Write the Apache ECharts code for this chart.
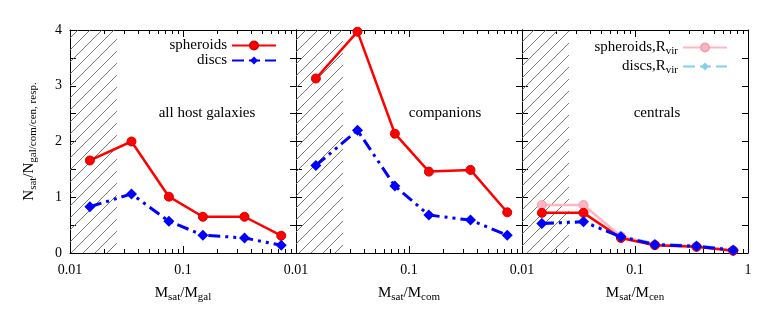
<!DOCTYPE html>
<html><head><meta charset="utf-8">
<script src="https://cdn.jsdelivr.net/npm/echarts@6/dist/echarts.min.js"></script>
<style>html,body{margin:0;padding:0;background:#fff}#c{width:772px;height:322px}</style>
</head><body><div id="c"></div>
<script>
// ---- data ----
const xBins = [0.015, 0.035, 0.075, 0.15, 0.35, 0.74];
const allSph = [1.66, 2.00, 1.01, 0.65, 0.65, 0.31];
const allDisc = [0.83, 1.06, 0.57, 0.32, 0.27, 0.14];
const comSph = [3.13, 3.97, 2.14, 1.46, 1.49, 0.73];
const comDisc = [1.57, 2.20, 1.20, 0.68, 0.59, 0.32];
const cenSph = [0.72, 0.72, 0.27, 0.14, 0.11, 0.04];
const cenDisc = [0.53, 0.56, 0.29, 0.15, 0.12, 0.05];
const cenSphRvir = [0.86, 0.86, 0.30, 0.15, 0.12, 0.05];
const cenDiscRvir = [0.53, 0.57, 0.30, 0.16, 0.13, 0.06];
const hatchRange = [0.01, 0.026];
const xMajor = [0.01, 0.1, 1];
const xMinor = [0.02,0.03,0.04,0.05,0.06,0.07,0.08,0.09,0.2,0.3,0.4,0.5,0.6,0.7,0.8,0.9];
const panelLabels = ['all host galaxies', 'companions', 'centrals'];
const xNames = ['gal', 'com', 'cen'];

const FONT = 'Liberation Serif';
const chart = echarts.init(document.getElementById('c'), null, {renderer: 'canvas'});

// hatch pattern
const pc = document.createElement('canvas');
const P = 12;
pc.width = P; pc.height = P;
const ctx = pc.getContext('2d');
ctx.strokeStyle = '#777'; ctx.lineWidth = 1;
ctx.beginPath();
ctx.moveTo(0, P); ctx.lineTo(P, 0);
ctx.moveTo(-2, 2); ctx.lineTo(2, -2);
ctx.moveTo(P - 2, P + 2); ctx.lineTo(P + 2, P - 2);
ctx.stroke();

const grids = [], xAxes = [], yAxes = [], series = [];
const lefts = [70, 296, 522];
const W = 226;
const rich = {
  n: {fontFamily: FONT, fontSize: 15, color: '#000'},
  s: {fontFamily: FONT, fontSize: 11, color: '#000', padding: [9, 0, 0, 0]}
};
for (let g = 0; g < 3; g++) {
  grids.push({left: lefts[g], top: 30, width: W, height: 223, containLabel: false});
  const common = {gridIndex: g, type: 'log', logBase: 10, min: 0.01, max: 1, splitLine: {show: false}};
  xAxes.push(Object.assign({}, common, {
    position: 'bottom',
    axisLine: {show: true, onZero: false, lineStyle: {color: '#000', width: 1}},
    axisTick: {show: true, inside: true, length: 7, customValues: xMajor, lineStyle: {color: '#000'}},
    axisLabel: {show: true, customValues: g < 2 ? [0.01, 0.1] : [0.01, 0.1, 1], margin: 10,
      fontFamily: FONT, fontSize: 14, color: '#000',
      formatter: v => v < 0.05 ? '0.01' : (v < 0.5 ? '0.1' : '1')},
    name: '{n|M}{s|sat}{n|/M}{s|' + xNames[g] + '}', nameLocation: 'middle', nameGap: 30,
    nameTextStyle: {rich: rich}
  }));
  xAxes.push(Object.assign({}, common, {
    position: 'bottom',
    axisLine: {show: false, onZero: false},
    axisTick: {show: true, inside: true, length: 4, customValues: xMinor, lineStyle: {color: '#000'}},
    axisLabel: {show: false}
  }));
  xAxes.push(Object.assign({}, common, {
    position: 'top',
    axisLine: {show: true, onZero: false, lineStyle: {color: '#000', width: 1}},
    axisTick: {show: true, inside: true, length: 7, customValues: xMajor, lineStyle: {color: '#000'}},
    axisLabel: {show: false}
  }));
  xAxes.push(Object.assign({}, common, {
    position: 'top',
    axisLine: {show: false, onZero: false},
    axisTick: {show: true, inside: true, length: 4, customValues: xMinor, lineStyle: {color: '#000'}},
    axisLabel: {show: false}
  }));
  const ycommon = {gridIndex: g, type: 'value', min: 0, max: 4, interval: 0.5, splitLine: {show: false}};
  yAxes.push(Object.assign({}, ycommon, {
    position: 'left',
    axisLine: {show: true, onZero: false, lineStyle: {color: '#000', width: 1}},
    axisTick: {show: true, inside: true, length: 6, lineStyle: {color: '#000'}},
    axisLabel: {show: g === 0, margin: 8, fontFamily: FONT, fontSize: 14, color: '#000',
      formatter: v => (Math.abs(v - Math.round(v)) < 1e-6 ? String(Math.round(v)) : '')},
    name: g === 0 ? '{n|N}{s|sat}{n|/N}{s|gal/com/cen, resp.}' : '',
    nameLocation: 'middle', nameGap: 31, nameRotate: 90,
    nameTextStyle: {rich: rich}
  }));
  yAxes.push(Object.assign({}, ycommon, {
    position: 'right',
    axisLine: {show: true, onZero: false, lineStyle: {color: '#000', width: 1}},
    axisTick: {show: true, inside: true, length: 6, lineStyle: {color: '#000'}},
    axisLabel: {show: false}
  }));
}

function mk(ys) { return xBins.map((x, i) => [x, ys[i]]); }
const dashDot = [12, 5, 3, 5, 3, 5];
function sph(name, g, ys, color, ring, z) {
  return {type: 'line', name: name, xAxisIndex: g * 4, yAxisIndex: g * 2, data: mk(ys),
    symbol: 'circle', symbolSize: 9, z: z,
    lineStyle: {color: color, width: 2.5, type: 'solid'},
    itemStyle: {color: color, borderColor: ring, borderWidth: 1}, animation: false};
}
function disc(name, g, ys, color, z) {
  return {type: 'line', name: name, xAxisIndex: g * 4, yAxisIndex: g * 2, data: mk(ys),
    symbol: 'diamond', symbolSize: 11, z: z,
    lineStyle: {color: color, width: 3, type: dashDot},
    itemStyle: {color: color}, animation: false};
}
const hatchSeries = g => ({type: 'line', xAxisIndex: g * 4, yAxisIndex: g * 2, data: [], silent: true, z: 1,
  markArea: {silent: true, itemStyle: {color: {image: pc, repeat: 'repeat'}},
    data: [[{xAxis: hatchRange[0], yAxis: 0}, {xAxis: hatchRange[1], yAxis: 4}]]}, animation: false});

series.push(hatchSeries(0), hatchSeries(1), hatchSeries(2));
series.push(sph('spheroids', 0, allSph, '#ff0000', '#d40000', 5));
series.push(disc('discs', 0, allDisc, '#0000ff', 5));
series.push(sph('spheroids', 1, comSph, '#ff0000', '#d40000', 5));
series.push(disc('discs', 1, comDisc, '#0000ff', 5));
series.push(sph('spheroids,Rvir', 2, cenSphRvir, '#ffb6c1', '#f4a0ae', 3));
series.push(disc('discs,Rvir', 2, cenDiscRvir, '#87ceeb', 3));
series.push(sph('spheroids', 2, cenSph, '#ff0000', '#d40000', 5));
series.push(disc('discs', 2, cenDisc, '#0000ff', 6));

const legRich = {
  t: {fontFamily: FONT, fontSize: 15, color: '#000', lineHeight: 15},
  s: {fontFamily: FONT, fontSize: 11, color: '#000', padding: [8, 0, 0, 0], lineHeight: 15}
};
const option = {
  backgroundColor: '#fff',
  animation: false,
  grid: grids, xAxis: xAxes, yAxis: yAxes, series: series,
  legend: [
    {data: ['spheroids', 'discs'], orient: 'vertical', right: 495, top: 38, align: 'right', padding: 0,
      itemWidth: 44, itemHeight: 10, itemGap: 0, selectedMode: false,
      textStyle: {fontFamily: FONT, fontSize: 15, color: '#000', lineHeight: 15}},
    {data: ['spheroids,Rvir', 'discs,Rvir'], orient: 'vertical', right: 44, top: 38, align: 'right', padding: 0,
      itemWidth: 44, itemHeight: 10, itemGap: 0, selectedMode: false,
      formatter: n => '{t|' + n.replace('Rvir', 'R') + '}{s|vir}',
      textStyle: {rich: legRich}}
  ],
  graphic: panelLabels.map((t, g) => ({
    type: 'text', x: [207, 445, 657][g], y: 113, silent: true,
    style: {text: t, font: '15px "' + FONT + '"', fill: '#000', align: 'center', verticalAlign: 'middle'}
  }))
};
chart.setOption(option);
</script></body></html>
